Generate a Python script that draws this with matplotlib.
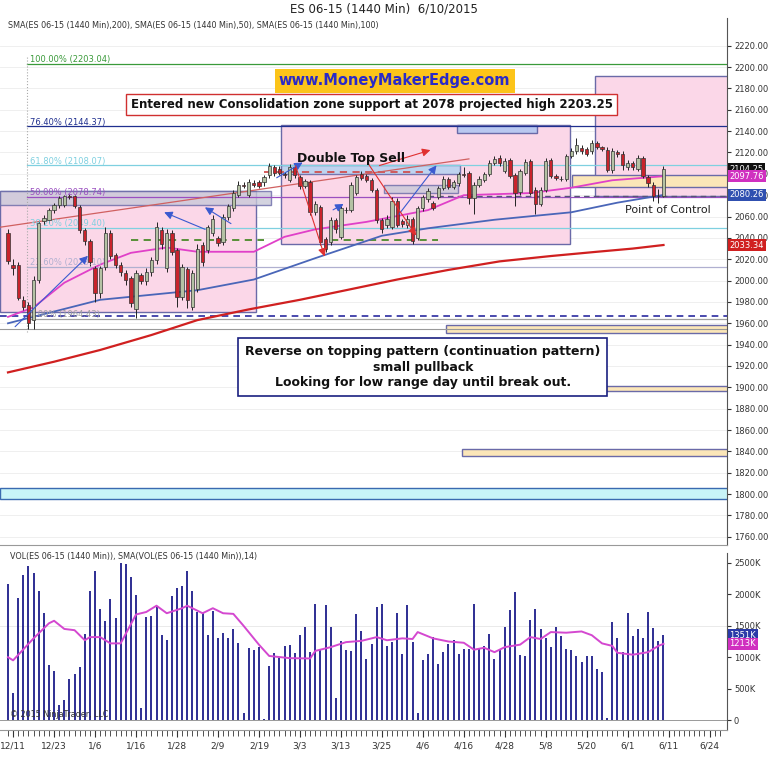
import numpy as np
import matplotlib
matplotlib.use("Agg")
import matplotlib.pyplot as plt
from matplotlib.patches import Rectangle

# ---- data ----
opens = [2045, 2015, 2015, 1982, 1977, 1963, 2001, 2056, 2057, 2066, 2071, 2071, 2079, 2079, 2069, 2047,
         2037, 2012, 1988, 2013, 2045, 2024, 2015, 2007, 2002, 1973, 2005, 2000, 2008, 2019, 2047, 2012,
         2045, 2029, 1985, 2011, 1975, 1992, 2033, 2029, 2045, 2040, 2036, 2060, 2068, 2080, 2090, 2080,
         2091, 2092, 2092, 2099, 2106, 2105, 2100, 2094, 2106, 2097, 2089, 2092, 2064, 2069, 2039, 2036,
         2057, 2041, 2066, 2066, 2082, 2100, 2098, 2094, 2085, 2057, 2052, 2050, 2075, 2056, 2052, 2058,
         2040, 2068, 2076, 2073, 2078, 2087, 2095, 2088, 2091, 2100, 2101, 2077, 2090, 2094, 2100, 2110,
         2115, 2103, 2113, 2099, 2083, 2101, 2112, 2085, 2072, 2085, 2113, 2098, 2095, 2095, 2117, 2121,
         2124, 2123, 2121, 2129, 2125, 2122, 2104, 2120, 2119, 2106, 2110, 2105, 2115, 2097, 2090, 2079,
         2079]
closes = [2018, 2012, 1984, 1975, 1960, 2001, 2054, 2059, 2066, 2071, 2077, 2079, 2078, 2070, 2047, 2037,
          2017, 1988, 2012, 2045, 2023, 2015, 2008, 2001, 1979, 2007, 2000, 2008, 2019, 2050, 2034, 2045,
          2027, 1985, 2013, 1982, 2007, 2030, 2017, 2050, 2058, 2035, 2060, 2070, 2082, 2090, 2089, 2092,
          2090, 2089, 2097, 2107, 2101, 2101, 2099, 2106, 2099, 2089, 2093, 2064, 2072, 2036, 2030, 2057,
          2048, 2068, 2066.5, 2090, 2097, 2096, 2094, 2085, 2057, 2048, 2058, 2075, 2052, 2053, 2058, 2037,
          2068, 2078, 2084, 2068, 2087, 2095, 2088, 2092, 2100, 2099, 2077, 2090, 2095, 2100, 2110, 2114,
          2110, 2112, 2098, 2082, 2103, 2111, 2082, 2072, 2085, 2112, 2098, 2096, 2095.5, 2117, 2121, 2127,
          2121, 2119, 2129, 2125, 2123, 2104, 2121, 2119, 2108, 2110, 2106, 2115, 2098, 2091, 2079, 2079.5,
          2104.25]
highs = [2048, 2020, 2017, 1986, 1980, 2004, 2057, 2061, 2068, 2073, 2079, 2080, 2081, 2080, 2071, 2049,
         2039, 2014, 2014, 2050, 2047, 2026, 2017, 2010, 2004, 2010, 2007, 2012, 2022, 2055, 2050, 2048,
         2047, 2031, 2016, 2013, 2010, 2034, 2036, 2052, 2061, 2042, 2062, 2072, 2085, 2093, 2092, 2095,
         2094, 2094, 2099, 2110, 2108, 2107, 2102, 2109, 2108, 2099, 2095, 2094, 2075, 2071, 2041, 2060,
         2059, 2070, 2069, 2092, 2099, 2103, 2100, 2096, 2087, 2059, 2061, 2078, 2077, 2058, 2061, 2060,
         2070, 2080, 2087, 2075, 2089, 2098, 2097, 2094, 2102, 2106, 2103, 2092, 2098, 2102, 2113, 2117,
         2118, 2115, 2115, 2101, 2105, 2114, 2114, 2088, 2088, 2115, 2115, 2100, 2098, 2119, 2124, 2134,
         2127, 2125, 2132, 2131, 2126, 2125, 2124, 2122, 2121, 2113, 2112, 2118, 2117, 2099, 2092, 2086,
         2107]
lows = [2016, 2005, 1982, 1972, 1955, 1955, 1998, 2052, 2054, 2063, 2068, 2069, 2076, 2068, 2045, 2033,
        2014, 1980, 1984, 2010, 2020, 2012, 2004, 1996, 1975, 1965, 1997, 1996, 2004, 2016, 2030, 2008,
        2024, 1975, 1982, 1974, 1972, 1989, 2014, 2026, 2042, 2032, 2033, 2057, 2065, 2078, 2087, 2078,
        2088, 2087, 2089, 2096, 2098, 2099, 2096, 2092, 2096, 2086, 2087, 2061, 2061, 2033, 2027, 2033,
        2045, 2039, 2063, 2064, 2080, 2094, 2092, 2083, 2054, 2045, 2049, 2048, 2050, 2050, 2049, 2034,
        2038, 2065, 2074, 2066, 2076, 2085, 2086, 2086, 2089, 2097, 2072, 2062, 2088, 2092, 2098, 2108,
        2107, 2101, 2096, 2070, 2080, 2099, 2080, 2062, 2070, 2083, 2096, 2094, 2093, 2093, 2115, 2119,
        2119, 2117, 2119, 2123, 2121, 2102, 2101, 2116, 2104, 2104, 2104, 2103, 2096, 2088, 2075, 2073,
        2078]
volume_k = [2166, 424, 1944, 2315, 2452, 2341, 2050, 1711, 874, 784, 238, 318, 651, 731, 847, 1377,
            2055, 2367, 1769, 1573, 1923, 1626, 2500, 2490, 2278, 1997, 185, 1642, 1658, 1801, 1361, 1271,
            1970, 2108, 2134, 2367, 2050, 1721, 1711, 1361, 1732, 1298, 1382, 1303, 1446, 1234, 117, 1144,
            1112, 1165, 10, 858, 1059, 980, 1171, 1202, 1070, 1361, 1478, 1075, 1854, 1123, 1828, 1488,
            355, 1261, 1112, 1102, 1695, 1414, 975, 1208, 1795, 1854, 1176, 1239, 1711, 1054, 1833, 1250,
            106, 954, 1049, 1314, 895, 1080, 1208, 1271, 1049, 1128, 1123, 1843, 1123, 1186, 1377, 969,
            1112, 1483, 1759, 2039, 1033, 1017, 1600, 1769, 1451, 1298, 1165, 1483, 1345, 1123, 1112, 1022,
            927, 1022, 1017, 805, 768, 37, 1563, 1308, 1080, 1706, 1345, 1446, 1303, 1721, 1467, 1261,
            1351]

# moving averages sampled at bar indices
sma50_idx = [0, 5, 11, 18, 24, 31, 37, 48, 54, 60, 70, 82, 89, 102, 110, 118, 128]
sma50_val = [1966, 1975, 1998, 2015, 2026, 2031, 2027, 2027, 2041, 2048, 2055, 2066, 2080, 2082, 2087, 2094, 2097.76]
sma100_idx = [0, 18, 37, 48, 60, 73, 82, 95, 110, 119, 128]
sma100_val = [1960, 1982, 1991, 2001, 2021, 2042, 2049, 2057, 2064, 2073, 2080.26]
sma200_idx = [0, 9, 18, 28, 37, 47, 57, 66, 76, 86, 96, 106, 115, 122, 128]
sma200_val = [1914, 1924, 1935, 1949, 1963, 1973, 1982, 1991, 2001, 2010, 2018, 2023, 2027, 2030, 2033.34]
vsma_idx = [0, 1, 5, 8, 9, 11, 13, 15, 16, 18, 20, 22, 25, 27, 29, 31, 34, 35, 38, 40, 42, 44, 46, 49, 51,
            55, 59, 60, 63, 66, 69, 72, 74, 77, 79, 80, 83, 86, 89, 91, 93, 95, 97, 100, 102, 104, 106,
            109, 112, 114, 116, 118, 119, 122, 125, 127, 128]
vsma_val = [1000, 950, 1300, 1540, 1580, 1450, 1430, 1270, 1320, 1320, 1220, 1220, 1680, 1720, 1820, 1700,
            1780, 1820, 1700, 1780, 1700, 1690, 1500, 1200, 1020, 985, 980, 1100, 1160, 1240, 1260, 1320,
            1270, 1300, 1290, 1400, 1300, 1250, 1230, 1120, 1150, 1080, 1160, 1200, 1320, 1290, 1400, 1390,
            1410, 1350, 1220, 1180, 1070, 1040, 1080, 1180, 1213]

tick_labels = ["12/11", "12/23", "1/6", "1/16", "1/28", "2/9", "2/19", "3/3", "3/13", "3/25",
               "4/6", "4/16", "4/28", "5/8", "5/20", "6/1", "6/11", "6/24"]
fib_levels = [(2203.04, "100.00%"), (2144.37, "76.40%"), (2108.07, "61.80%"), (2078.74, "50.00%"),
              (2049.40, "38.20%"), (2013.10, "23.60%"), (1964.43, "0.00%")]
fib_colors = ["#3a9a3a", "#1f2f8f", "#7fd0e0", "#9a4fc0", "#7fd0e0", "#b0b0d0", "#a0a0a0"]

n = len(closes)
x = np.arange(n)

W, H = 768, 764
fig = plt.figure(figsize=(W / 100, H / 100), dpi=100)
fig.patch.set_facecolor("white")


def px_axes(left, top, right, bottom):
    return fig.add_axes([left / W, 1 - bottom / H, (right - left) / W, (bottom - top) / H])


ax = px_axes(0, 18, 727, 545)
axv = px_axes(0, 553, 727, 730)
xlim = (-1.56, 140.4)

for a in (ax, axv):
    a.set_xlim(*xlim)
    a.yaxis.tick_right()
    a.tick_params(axis="y", labelsize=6, length=3, pad=2, colors="#333333")
    for s in ("left", "top"):
        a.spines[s].set_visible(False)
    a.spines["right"].set_color("#555555")
    a.spines["bottom"].set_color("#999999")

ax.set_ylim(1752.3, 2246)
ticks = np.arange(1760, 2221, 20)
ax.set_yticks(ticks)
ax.set_yticklabels([f"{t:.2f}" for t in ticks])
ax.set_xticks([])
for t in ticks:
    ax.axhline(t, color="#ececec", lw=0.6, zorder=0)

# zones / boxes
ax.add_patch(Rectangle((-1.56, 1971), 50, 113, fc="#fbd7e8", ec="#6a6aa8", lw=1, zorder=1))
ax.add_patch(Rectangle((53.3, 2034), 56.5, 112, fc="#fbd7e8", ec="#6a6aa8", lw=1, zorder=1))
ax.add_patch(Rectangle((114.6, 2079), 30, 113, fc="#fbd7e8", ec="#6a6aa8", lw=1, zorder=1))
ax.add_patch(Rectangle((87.7, 2138), 15.6, 8, fc="#b9c8f0", ec="#6a6aa8", lw=1, zorder=2))
ax.add_patch(Rectangle((-1.56, 2071), 53, 13, fc="#c8c8d8", ec="#6a6aa8", lw=1, alpha=0.8, zorder=2))
ax.add_patch(Rectangle((53.3, 2100), 35, 8, fc="#b9d3f0", ec="#6a6aa8", lw=1, alpha=0.9, zorder=2))
ax.add_patch(Rectangle((73.4, 2082), 14.5, 8, fc="#c8c8d8", ec="#6a6aa8", lw=1, alpha=0.8, zorder=2))
ax.add_patch(Rectangle((110.2, 2088), 35, 11, fc="#fbe6b8", ec="#6a6aa8", lw=1, zorder=2))
ax.add_patch(Rectangle((85.6, 1951), 60, 7, fc="#fbe6b8", ec="#6a6aa8", lw=1, zorder=2))
ax.add_patch(Rectangle((87.3, 1897), 60, 4, fc="#fbe6b8", ec="#6a6aa8", lw=1, zorder=2))
ax.add_patch(Rectangle((88.7, 1836), 60, 6, fc="#fbe6b8", ec="#6a6aa8", lw=1, zorder=2))
ax.add_patch(Rectangle((-1.56, 1795), 145, 11, fc="#c8f4f8", ec="#3a6ab0", lw=1, zorder=2))

# fibonacci levels
for (lvl, pct), col in zip(fib_levels, fib_colors):
    ax.plot([3.7, 140.4], [lvl, lvl], color=col, lw=0.9, zorder=2)
    ax.text(4.3, lvl + 1.5, f"{pct} ({lvl:.2f})", fontsize=6, color=col, zorder=6)
ax.plot([3.7, 3.7], [1952, 2210], color="#aaaaaa", lw=0.8, ls=":", zorder=2)

ax.axhline(1967, color="#2a2aa0", lw=1.2, ls=(0, (4, 3)), zorder=3)
ax.plot([-1.56, 140.4], [1955, 1955], color="#999999", lw=0.8, zorder=2)
ax.plot([50, 82], [2102, 2102], color="#d05050", lw=1.3, ls=(0, (4, 3)), zorder=3)
ax.plot([24, 50], [2038, 2038], color="#4a8a2a", lw=1.3, ls=(0, (4, 3)), zorder=3)
ax.plot([63, 84], [2038, 2038], color="#4a8a2a", lw=1.3, ls=(0, (4, 3)), zorder=3)
ax.plot([82, 140.4], [2079, 2079], color="#555577", lw=1.0, ls=(0, (4, 3)), zorder=3)
ax.plot([-1.56, 90], [2050, 2114], color="#d06060", lw=0.9, zorder=3)

# moving averages
ax.plot(sma200_idx, sma200_val, color="#d02020", lw=1.6, zorder=4)
ax.plot(sma100_idx, sma100_val, color="#4a66b8", lw=1.3, zorder=4)
ax.plot(sma50_idx, sma50_val, color="#e040c8", lw=1.3, zorder=4)

# candles
o = np.array(opens); c = np.array(closes)
up = c >= o
ax.vlines(x, lows, highs, color="#222222", lw=0.7, zorder=5)
ax.bar(x[up], (c - o)[up], bottom=o[up], width=0.65, color="#b4c2a4", edgecolor="#333333", lw=0.5, zorder=6)
ax.bar(x[~up], (o - c)[~up], bottom=c[~up], width=0.65, color="#c8232c", edgecolor="#333333", lw=0.5, zorder=6)

# trade arrows
for (x0, y0, x1, y1, col) in [(1, 1955, 16, 2025, "#3a5ad0"), (44, 2052, 38, 2070, "#3a5ad0"),
                              (39, 2047, 30, 2065, "#3a5ad0"), (52, 2095, 58, 2112, "#3a5ad0"),
                              (56, 2110, 62, 2020, "#e03030"), (63, 2065, 66, 2073, "#3a5ad0"),
                              (76, 2060, 84, 2110, "#3a5ad0"), (70, 2112, 80, 2040, "#e03030"),
                              (72, 2107, 83, 2123, "#e03030")]:
    ax.annotate("", xy=(x1, y1), xytext=(x0, y0),
                arrowprops=dict(arrowstyle="-|>", color=col, lw=0.8, mutation_scale=12), zorder=7)

# labels on chart
ax.text(75.5, 2187, "www.MoneyMakerEdge.com", ha="center", va="center", fontsize=10.5,
        fontweight="bold", color="#2a2ac8", bbox=dict(fc="#fcc419", ec="none", pad=3), zorder=8)
ax.text(71, 2165, "Entered new Consolidation zone support at 2078 projected high 2203.25",
        ha="center", va="center", fontsize=8.5, fontweight="bold", color="#111111",
        bbox=dict(fc="white", ec="#d03030", pad=3), zorder=8)
ax.text(56.5, 2111, "Double Top Sell", fontsize=9, fontweight="bold", color="#111111", zorder=8)
ax.text(120.5, 2063, "Point of Control", fontsize=8, color="#222222", zorder=8)
ax.text(81, 1919, "Reverse on topping pattern (continuation pattern)\nsmall pullback\n"
        "Looking for low range day until break out.", ha="center", va="center", fontsize=9,
        fontweight="bold", color="#111111", linespacing=1.25,
        bbox=dict(fc="white", ec="#1a2080", lw=1.2, pad=5), zorder=8)
ax.text(0, 2237, "SMA(ES 06-15 (1440 Min),200), SMA(ES 06-15 (1440 Min),50), SMA(ES 06-15 (1440 Min),100)",
        fontsize=5.8, color="#333333", zorder=8)

# right axis flags
for val, col in [(2104.25, "#111111"), (2097.76, "#d030c0"), (2080.26, "#3050b0"), (2033.34, "#d02020")]:
    ax.text(140.9, val, f"{val:.2f}", fontsize=6, color="white", va="center", ha="left",
            bbox=dict(fc=col, ec="none", pad=1.2), zorder=9, clip_on=False)

fig.text(0.5, 1 - 9 / H, "ES 06-15 (1440 Min)  6/10/2015", ha="center", va="center", fontsize=8.5,
         color="#222222")

# volume panel
axv.set_ylim(-159, 2659)
vt = np.arange(0, 2501, 500)
axv.set_yticks(vt)
axv.set_yticklabels(["0"] + [f"{v}K" for v in vt[1:]])
axv.axhline(0, color="#999999", lw=0.7)
axv.axhline(1500, color="#e6e6e6", lw=0.6, zorder=0)
axv.vlines(x, 0, volume_k, color="#1c1c8a", lw=1.3, zorder=3)
axv.plot(vsma_idx, vsma_val, color="#d448d0", lw=1.4, zorder=4)
axv.text(0.3, 2560, "VOL(ES 06-15 (1440 Min)), SMA(VOL(ES 06-15 (1440 Min)),14)", fontsize=5.8, color="#333333")
axv.text(0.3, 20, "© 2015 NinjaTrader, LLC", fontsize=5.8, color="#333333", va="bottom")
for val, col in [(1351, "#2a3aa8"), (1213, "#d030c0")]:
    axv.text(140.9, val, f"{val}K", fontsize=6, color="white", va="center", ha="left",
             bbox=dict(fc=col, ec="none", pad=1.2), zorder=9, clip_on=False)
tick_pos = np.arange(1, 1 + 8 * len(tick_labels), 8)
axv.set_xticks(tick_pos)
axv.set_xticklabels(tick_labels)
axv.set_xticks(np.arange(0, 140), minor=True)
axv.tick_params(axis="x", which="major", labelsize=6.5, length=5, colors="#333333")
axv.tick_params(axis="x", which="minor", length=4, color="#333333")

fig.savefig("out.png", dpi=100, facecolor="white")
